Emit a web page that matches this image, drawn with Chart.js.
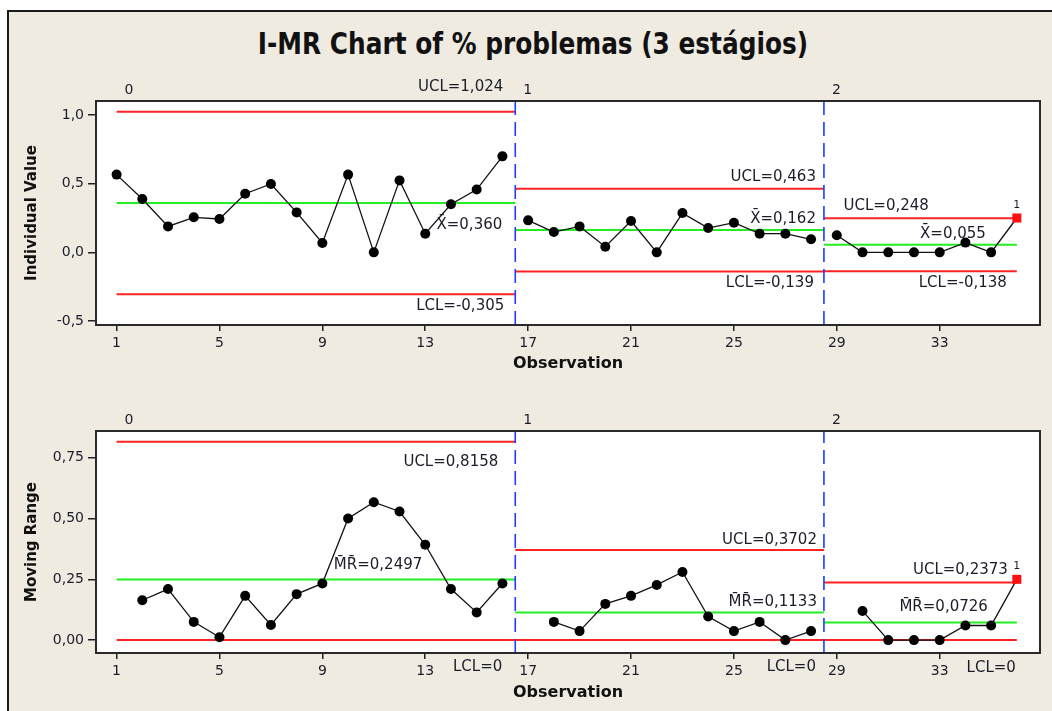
<!DOCTYPE html>
<html lang="pt">
<head>
  <meta charset="UTF-8" />
  <title>I-MR Chart of % problemas (3 estágios)</title>
  <style>
    * {
      margin: 0;
      padding: 0;
      box-sizing: border-box;
    }

    body {
      width: 1052px;
      height: 711px;
      background: #fff;
      position: relative;
      overflow: hidden;
      font-family: 'DejaVu Sans', sans-serif;
    }

    .frame {
      position: absolute;
      left: 7px;
      top: 10px;
      width: 1100px;
      height: 760px;
      background: #efebe1;
      border-left: 2px solid #1a1a1a;
      border-top: 2px solid #1a1a1a;
    }

    .title {
      position: absolute;
      left: 533px;
      top: 29px;
      font: bold 30px/30px 'DejaVu Sans', sans-serif;
      color: #111;
      white-space: nowrap;
      transform-origin: 0 0;
    }

    canvas {
      position: absolute;
      left: 0;
    }

    #iChart { top: 0; }
    #mrChart { top: 380px; }
  </style>
</head>
<body>
  <div class="frame"></div>
  <div class="title" id="title">I-MR Chart of % problemas (3 estágios)</div>
  <canvas id="iChart" width="1052" height="380"></canvas>
  <canvas id="mrChart" width="1052" height="331"></canvas>

  <script src="https://cdn.jsdelivr.net/npm/chart.js"></script>
  <script>
    // observations and stages
    const observations = [1, 2, 3, 4, 5, 6, 7, 8, 9, 10, 11, 12, 13, 14, 15, 16, 17, 18,
      19, 20, 21, 22, 23, 24, 25, 26, 27, 28, 29, 30, 31, 32, 33, 34, 35, 36];
    const stageNames = ['0', '1', '2'];
    const stageStart = [1, 16.5, 28.5];
    const stageEnd = [16.5, 28.5, 36];
    const stageBreaks = [16.5, 28.5];
    const flagged = [36];

    // individual values
    const individualValues = [0.566, 0.388, 0.189, 0.255, 0.243, 0.427, 0.498, 0.291, 0.068, 0.566,
      0.0, 0.524, 0.136, 0.350, 0.457, 0.699,
      0.233, 0.148, 0.189, 0.041, 0.228, 0.0, 0.286, 0.177, 0.216, 0.136, 0.136, 0.095,
      0.124, 0.0, 0.0, 0.0, 0.0, 0.071, 0.0, 0.25];

    // moving ranges (first point of each stage has none)
    const movingRanges = [null, 0.164, 0.210, 0.075, 0.012, 0.182, 0.062, 0.189, 0.233, 0.500,
      0.567, 0.529, 0.392, 0.210, 0.114, 0.233,
      null, 0.075, 0.037, 0.149, 0.182, 0.227, 0.280, 0.097, 0.037, 0.075, 0.0, 0.037,
      null, 0.12, 0.0, 0.0, 0.0, 0.06, 0.06, 0.25];

    // control limits per stage
    const iUCL = [1.024, 0.463, 0.248];
    const iCL = [0.360, 0.162, 0.055];
    const iLCL = [-0.305, -0.139, -0.138];
    const mrUCL = [0.8158, 0.3702, 0.2373];
    const mrCL = [0.2497, 0.1133, 0.0726];
    const mrLCL = [0, 0, 0];

    // ticks
    const xTicks = [1, 5, 9, 13, 17, 21, 25, 29, 33];
    const iTicks = [-0.5, 0, 0.5, 1.0];
    const mrTicks = [0, 0.25, 0.5, 0.75];

    const RED = '#ff2424';
    const GREEN = '#22ee22';
    const BLUE = '#1f3cff';
    const TEXT = '#1c1c2a';
    const FONT = "'DejaVu Sans', sans-serif";

    // fit title width to the original
    const titleEl = document.getElementById('title');
    const k = 550 / titleEl.offsetWidth;
    titleEl.style.transform = 'scaleX(' + k + ') translateX(-50%)';

    const fmt = (v, d) => v === 0 ? '0' : v.toFixed(d).replace('.', ',');

    function stageOf(obs) {
      return obs < stageStart[1] ? 0 : obs < stageStart[2] ? 1 : 2;
    }

    function stageSeries(values) {
      return stageNames.map((_, s) => observations
        .map((o, i) => ({ x: o, y: values[i] }))
        .filter(p => p.y !== null && stageOf(p.x) === s));
    }

    const isFlag = ctx => ctx.raw && flagged.includes(ctx.raw.x);

    const bgPlugin = {
      id: 'plotBox',
      beforeDraw(chart) {
        const a = chart.chartArea, c = chart.ctx;
        c.save();
        c.fillStyle = '#fff';
        c.fillRect(a.left, a.top, a.right - a.left, a.bottom - a.top);
        c.restore();
      },
      afterDraw(chart) {
        const a = chart.chartArea, c = chart.ctx;
        c.save();
        c.strokeStyle = '#2a2a2a';
        c.lineWidth = 2;
        c.strokeRect(a.left, a.top, a.right - a.left, a.bottom - a.top);
        c.restore();
      }
    };

    const labelPlugin = {
      id: 'limitLabels',
      afterDraw(chart) {
        const c = chart.ctx, xs = chart.scales.x, ys = chart.scales.y;
        const opts = chart.options.plugins.limitLabels;
        c.save();
        c.fillStyle = TEXT;
        c.textBaseline = 'middle';
        c.font = '15px ' + FONT;
        c.textAlign = 'right';
        opts.items.forEach(l => {
          c.fillText(l.text, xs.getPixelForValue(l.x) + l.dx, ys.getPixelForValue(l.y) + l.dy);
        });
        // stage names above the plot
        c.font = '14px ' + FONT;
        c.textAlign = 'left';
        stageNames.forEach((n, s) => {
          c.fillText(n, xs.getPixelForValue(stageStart[s]) + 8, chart.chartArea.top - 11);
        });
        // test 1 flags
        c.font = '11px ' + FONT;
        c.textAlign = 'center';
        flagged.forEach(o => {
          const v = opts.values[observations.indexOf(o)];
          c.fillText('1', xs.getPixelForValue(o), ys.getPixelForValue(v) - 13);
        });
        c.restore();
      }
    };

    function limitSets(ucl, cl, lcl) {
      const sets = [];
      stageNames.forEach((_, s) => {
        [[ucl[s], RED], [cl[s], GREEN], [lcl[s], RED]].forEach(([v, col]) => {
          sets.push({
            data: [{ x: stageStart[s], y: v }, { x: stageEnd[s], y: v }],
            borderColor: col, borderWidth: 2, pointRadius: 0, order: 3
          });
        });
      });
      return sets;
    }

    function buildChart(id, cfg) {
      const datasets = [];
      stageSeries(cfg.values).forEach(pts => {
        datasets.push({
          data: pts,
          borderColor: '#111',
          borderWidth: 1.3,
          pointStyle: ctx => isFlag(ctx) ? 'rect' : 'circle',
          pointRadius: ctx => isFlag(ctx) ? 6.4 : 5,
          pointBackgroundColor: ctx => isFlag(ctx) ? '#ff1010' : '#000',
          pointBorderWidth: 0,
          order: 1
        });
      });
      stageBreaks.forEach(b => {
        datasets.push({
          data: [{ x: b, y: cfg.yMin }, { x: b, y: cfg.yMax }],
          borderColor: BLUE, borderWidth: 1.6, borderDash: [14, 7],
          pointRadius: 0, order: 2
        });
      });
      datasets.push(...limitSets(cfg.ucl, cfg.cl, cfg.lcl));

      return new Chart(document.getElementById(id), {
        type: 'line',
        data: { datasets },
        options: {
          responsive: false,
          animation: false,
          layout: { padding: { top: cfg.padTop, right: 12, left: 0, bottom: 0 } },
          plugins: {
            legend: { display: false },
            tooltip: { enabled: false },
            limitLabels: { items: cfg.labels, values: cfg.values }
          },
          scales: {
            x: {
              type: 'linear',
              min: 0.2,
              max: 36.9,
              afterBuildTicks: s => { s.ticks = xTicks.map(v => ({ value: v })); },
              afterFit: s => { s.height = cfg.xHeight; },
              ticks: { color: TEXT, font: { family: FONT, size: 14 }, padding: 4, maxRotation: 0 },
              grid: { drawOnChartArea: false, drawTicks: true, tickLength: 6, color: '#222', lineWidth: 1.5 },
              border: { display: false },
              title: {
                display: true, text: 'Observation', color: '#111',
                font: { family: FONT, size: 16, weight: 'bold' },
                padding: { top: 0, bottom: cfg.xTitlePad }
              }
            },
            y: {
              min: cfg.yMin,
              max: cfg.yMax,
              afterBuildTicks: s => { s.ticks = cfg.ticks.map(v => ({ value: v })); },
              afterFit: s => { s.width = 96; },
              ticks: {
                color: TEXT, font: { family: FONT, size: 14 }, padding: 4,
                callback: v => v.toFixed(cfg.decimals).replace('.', ',')
              },
              grid: { drawOnChartArea: false, drawTicks: true, tickLength: 8, color: '#222', lineWidth: 1.5 },
              border: { display: false },
              title: {
                display: true, text: cfg.yTitle, color: '#111',
                font: { family: FONT, size: 15, weight: 'bold' },
                padding: { top: 23, bottom: 0 }
              }
            }
          }
        },
        plugins: [bgPlugin, labelPlugin]
      });
    }

    // I chart
    const iOffsets = [[[-12, -25], [-13, 22], [-11, 12]],
                      [[-8, -12], [-8, -11], [-10, 12]],
                      [[-88, -12], [-31, -11], [-10, 12]]];
    const iLabels = [];
    stageNames.forEach((_, s) => {
      iLabels.push({ text: 'UCL=' + fmt(iUCL[s], 3), x: stageEnd[s], y: iUCL[s], dx: iOffsets[s][0][0], dy: iOffsets[s][0][1] });
      iLabels.push({ text: 'X\u0304=' + fmt(iCL[s], 3), x: stageEnd[s], y: iCL[s], dx: iOffsets[s][1][0], dy: iOffsets[s][1][1] });
      iLabels.push({ text: 'LCL=' + fmt(iLCL[s], 3), x: stageEnd[s], y: iLCL[s], dx: iOffsets[s][2][0], dy: iOffsets[s][2][1] });
    });

    buildChart('iChart', {
      values: individualValues,
      ucl: iUCL, cl: iCL, lcl: iLCL,
      yMin: -0.529, yMax: 1.102,
      ticks: iTicks, decimals: 1,
      yTitle: 'Individual Value',
      padTop: 101, xHeight: 55, xTitlePad: 7,
      labels: iLabels
    });

    // MR chart
    const mrOffsets = [[[-17, 20], [-93, -14], [-13, 27]],
                       [[-7, -10], [-7, -10], [-8, 27]],
                       [[-9, -12], [-29, -15], [-1, 28]]];
    const mrLabels = [];
    stageNames.forEach((_, s) => {
      mrLabels.push({ text: 'UCL=' + fmt(mrUCL[s], 4), x: stageEnd[s], y: mrUCL[s], dx: mrOffsets[s][0][0], dy: mrOffsets[s][0][1] });
      mrLabels.push({ text: 'M\u0304R\u0304=' + fmt(mrCL[s], 4), x: stageEnd[s], y: mrCL[s], dx: mrOffsets[s][1][0], dy: mrOffsets[s][1][1] });
      mrLabels.push({ text: 'LCL=' + fmt(mrLCL[s], 4), x: stageEnd[s], y: mrLCL[s], dx: mrOffsets[s][2][0], dy: mrOffsets[s][2][1] });
    });

    buildChart('mrChart', {
      values: movingRanges,
      ucl: mrUCL, cl: mrCL, lcl: mrLCL,
      yMin: -0.053, yMax: 0.86,
      ticks: mrTicks, decimals: 2,
      yTitle: 'Moving Range',
      padTop: 51, xHeight: 58, xTitlePad: 9,
      labels: mrLabels
    });
  </script>
</body>
</html>
